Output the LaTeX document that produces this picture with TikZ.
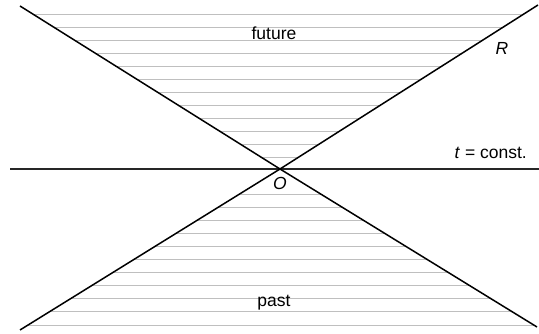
\documentclass[tikz,border=0pt]{standalone}
\usepackage{fontspec}
\setmainfont{Liberation Sans}
\usetikzlibrary{positioning}
\tikzset{
  cone/.style={line width=1.5pt,black},
  axis/.style={line width=1.5pt,black!85},
  hatch/.style={line width=0.9pt,black!25},
  lab/.style={font=\fontsize{17.5}{20}\selectfont,inner sep=0pt},
  ilab/.style={lab,font=\fontsize{17.5}{20}\selectfont\itshape}
}
\begin{document}
\begin{tikzpicture}[x=1pt,y=-1pt]
  \useasboundingbox (0,0) rectangle (539,334);
  % light cone through the event O
  \coordinate (O) at (280,169);
  \coordinate (ul) at (20,6);
  \coordinate (ur) at (538,5);
  \coordinate (ll) at (20,330);
  \coordinate (lr) at (537,327);
  \coordinate (hl) at (10,169);
  \coordinate (hr) at (539,169);
  % hatching of the future and the past cones
  \begin{scope}
    \clip (ul) -- (ur) -- (O) -- cycle;
    \foreach \k in {0,...,11}
      \draw[hatch] (0,14+13*\k) -- (539,14+13*\k);
  \end{scope}
  \begin{scope}
    \clip (ll) -- (lr) -- (O) -- cycle;
    \foreach \k in {0,...,10}
      \draw[hatch] (0,194+13.1*\k) -- (539,194+13.1*\k);
  \end{scope}
  \draw[axis] (hl) -- (hr);
  \draw[cone] (ul) -- (O) -- (lr);
  \draw[cone] (ll) -- (O) -- (ur);
  \node[lab] (fut) at (274,33) {future};
  \node[lab] (pst) at (274,303) {past};
  \node[ilab] (R) at (502,48) {R};
  \node[ilab] (Olab) at (280,183) {O};
  \node[lab,anchor=base east] (tc) at (527,159) {\textit{t} = const.};
\end{tikzpicture}
\end{document}
